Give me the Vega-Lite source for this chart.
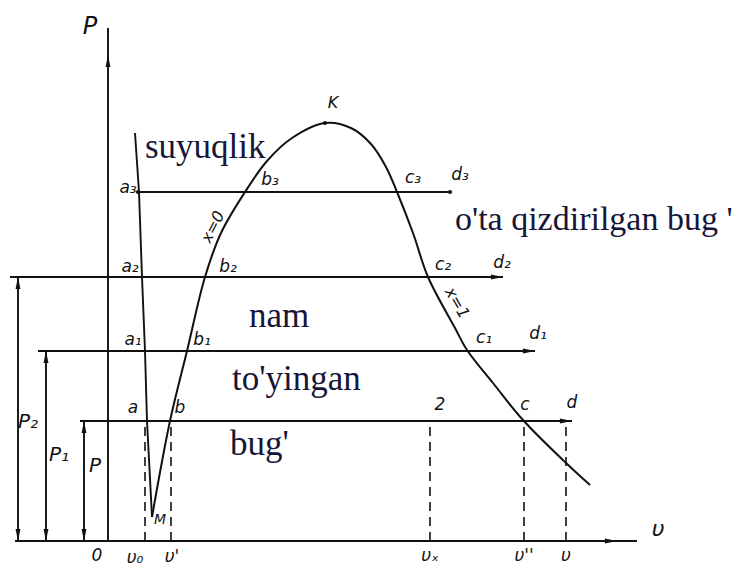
{
  "$schema": "https://vega.github.io/schema/vega-lite/v6.json",
  "width": 755,
  "height": 571,
  "autosize": {"type": "fit", "contains": "padding"},
  "padding": 0,
  "background": "white",
  "config": {"view": {"stroke": null}},
  "datasets": {
    "solid": [
      {"id": "axisP", "o": 0, "v": 0, "p": 0}, {"id": "axisP", "o": 1, "v": 0, "p": 51.3},
      {"id": "axisV", "o": 0, "v": -9.3, "p": 0}, {"id": "axisV", "o": 1, "v": 52.9, "p": 0},
      {"id": "h3", "o": 0, "v": 3.0, "p": 34.9}, {"id": "h3", "o": 1, "v": 34.2, "p": 34.9},
      {"id": "h2", "o": 0, "v": -9.8, "p": 26.4}, {"id": "h2", "o": 1, "v": 39.5, "p": 26.4},
      {"id": "h1", "o": 0, "v": -7.0, "p": 19.0}, {"id": "h1", "o": 1, "v": 42.7, "p": 19.0},
      {"id": "h0", "o": 0, "v": -2.8, "p": 12.0}, {"id": "h0", "o": 1, "v": 46.4, "p": 12.0},
      {"id": "dimP2", "o": 0, "v": -9.0, "p": 0}, {"id": "dimP2", "o": 1, "v": -9.0, "p": 26.4},
      {"id": "dimP1", "o": 0, "v": -6.2, "p": 0}, {"id": "dimP1", "o": 1, "v": -6.2, "p": 19.0},
      {"id": "dimP", "o": 0, "v": -2.4, "p": 0}, {"id": "dimP", "o": 1, "v": -2.4, "p": 12.0},
      {"id": "liquid", "o": 0, "v": 2.7, "p": 40.8},
      {"id": "liquid", "o": 1, "v": 3.1, "p": 34.9},
      {"id": "liquid", "o": 2, "v": 3.4, "p": 26.4},
      {"id": "liquid", "o": 3, "v": 3.7, "p": 19.0},
      {"id": "liquid", "o": 4, "v": 3.9, "p": 12.0},
      {"id": "liquid", "o": 5, "v": 4.4, "p": 2.4}
    ],
    "dashed": [
      {"id": "v0", "v": 3.7, "p": 0}, {"id": "v0", "v": 3.7, "p": 12.0},
      {"id": "v1", "v": 6.3, "p": 0}, {"id": "v1", "v": 6.3, "p": 12.0},
      {"id": "vx", "v": 32.2, "p": 0}, {"id": "vx", "v": 32.2, "p": 12.0},
      {"id": "v2", "v": 41.6, "p": 0}, {"id": "v2", "v": 41.6, "p": 12.0},
      {"id": "v3", "v": 45.8, "p": 0}, {"id": "v3", "v": 45.8, "p": 12.0}
    ],
    "saturation": [
      {"o": 0, "v": 4.4, "p": 2.4}, {"o": 1, "v": 6.2, "p": 12.0}, {"o": 2, "v": 7.9, "p": 19.0},
      {"o": 3, "v": 9.7, "p": 26.4}, {"o": 4, "v": 11.3, "p": 30.8}, {"o": 5, "v": 13.7, "p": 34.9},
      {"o": 6, "v": 15.9, "p": 38.0}, {"o": 7, "v": 18.4, "p": 40.3}, {"o": 8, "v": 21.7, "p": 41.8},
      {"o": 9, "v": 24.3, "p": 41.3}, {"o": 10, "v": 26.3, "p": 39.7}, {"o": 11, "v": 27.8, "p": 37.4},
      {"o": 12, "v": 28.9, "p": 34.9}, {"o": 13, "v": 30.5, "p": 30.8}, {"o": 14, "v": 32.0, "p": 26.4},
      {"o": 15, "v": 34.7, "p": 21.3}, {"o": 16, "v": 35.9, "p": 19.1}, {"o": 17, "v": 38.5, "p": 15.8},
      {"o": 18, "v": 41.5, "p": 12.1}, {"o": 19, "v": 45.7, "p": 7.9}, {"o": 20, "v": 48.2, "p": 5.6}
    ],
    "arrows": [
      {"v": 0, "p": 48.0, "dir": "up"},
      {"v": 50.3, "p": 0, "dir": "right"},
      {"v": 38.9, "p": 26.4, "dir": "right"},
      {"v": 42.1, "p": 19.0, "dir": "right"},
      {"v": 45.8, "p": 12.0, "dir": "right"},
      {"v": -9.0, "p": 25.8, "dir": "up"},
      {"v": -9.0, "p": 0.6, "dir": "down"},
      {"v": -6.2, "p": 18.4, "dir": "up"},
      {"v": -6.2, "p": 0.6, "dir": "down"},
      {"v": -2.4, "p": 11.4, "dir": "up"},
      {"v": -2.4, "p": 0.6, "dir": "down"}
    ],
    "dots": [
      {"v": 21.7, "p": 41.8}, {"v": 34.2, "p": 34.9}, {"v": 3.0, "p": 34.9}
    ],
    "marks": [
      {"text": "P", "v": -1.8, "p": 51.4, "size": 24, "angle": 0},
      {"text": "υ", "v": 55.0, "p": 1.2, "size": 22, "angle": 0},
      {"text": "0", "v": -1.1, "p": -1.5, "size": 17, "angle": 0},
      {"text": "υ₀", "v": 2.7, "p": -1.7, "size": 17, "angle": 0},
      {"text": "υ'", "v": 6.4, "p": -1.6, "size": 17, "angle": 0},
      {"text": "υₓ", "v": 32.2, "p": -1.5, "size": 17, "angle": 0},
      {"text": "υ''", "v": 41.6, "p": -1.5, "size": 17, "angle": 0},
      {"text": "υ", "v": 45.8, "p": -1.5, "size": 17, "angle": 0},
      {"text": "P₂", "v": -8.0, "p": 11.9, "size": 20, "angle": 0},
      {"text": "P₁", "v": -4.9, "p": 8.6, "size": 20, "angle": 0},
      {"text": "P", "v": -1.3, "p": 7.5, "size": 20, "angle": 0},
      {"text": "a₃", "v": 2.0, "p": 35.3, "size": 17, "angle": 0},
      {"text": "a₂", "v": 2.2, "p": 27.4, "size": 17, "angle": 0},
      {"text": "a₁", "v": 2.5, "p": 20.1, "size": 17, "angle": 0},
      {"text": "a", "v": 2.5, "p": 13.3, "size": 17, "angle": 0},
      {"text": "b₃", "v": 16.2, "p": 36.1, "size": 17, "angle": 0},
      {"text": "b₂", "v": 12.0, "p": 27.4, "size": 17, "angle": 0},
      {"text": "b₁", "v": 9.4, "p": 20.1, "size": 17, "angle": 0},
      {"text": "b", "v": 7.2, "p": 13.3, "size": 17, "angle": 0},
      {"text": "c₃", "v": 30.5, "p": 36.3, "size": 17, "angle": 0},
      {"text": "d₃", "v": 35.2, "p": 36.6, "size": 17, "angle": 0},
      {"text": "c₂", "v": 33.5, "p": 27.6, "size": 17, "angle": 0},
      {"text": "d₂", "v": 39.4, "p": 27.8, "size": 17, "angle": 0},
      {"text": "c₁", "v": 37.6, "p": 20.3, "size": 17, "angle": 0},
      {"text": "d₁", "v": 43.0, "p": 20.7, "size": 17, "angle": 0},
      {"text": "2", "v": 33.2, "p": 13.6, "size": 17, "angle": 0},
      {"text": "c", "v": 41.7, "p": 13.6, "size": 17, "angle": 0},
      {"text": "d", "v": 46.4, "p": 13.8, "size": 17, "angle": 0},
      {"text": "M", "v": 5.2, "p": 2.1, "size": 14, "angle": 0},
      {"text": "K", "v": 22.5, "p": 43.8, "size": 16, "angle": 0},
      {"text": "x=0", "v": 10.5, "p": 31.4, "size": 16, "angle": -63},
      {"text": "x=1", "v": 34.9, "p": 23.8, "size": 16, "angle": 60}
    ],
    "regions": [
      {"text": "suyuqlik", "v": 3.7, "p": 38.3, "size": 35},
      {"text": "o'ta qizdirilgan bug '", "v": 34.7, "p": 31.1, "size": 34},
      {"text": "nam", "v": 14.1, "p": 21.4, "size": 35},
      {"text": "to'yingan", "v": 12.4, "p": 15.1, "size": 35},
      {"text": "bug'", "v": 12.2, "p": 8.6, "size": 35}
    ]
  },
  "encoding": {
    "x": {"field": "v", "type": "quantitative", "scale": {"domain": [-10.8, 64.7], "nice": false, "zero": false}, "axis": null},
    "y": {"field": "p", "type": "quantitative", "scale": {"domain": [-3.0, 54.1], "nice": false, "zero": false}, "axis": null}
  },
  "layer": [
    {
      "data": {"name": "solid"},
      "mark": {"type": "line", "color": "#111111", "strokeWidth": 1.9},
      "encoding": {"detail": {"field": "id"}, "order": {"field": "o"}}
    },
    {
      "data": {"name": "dashed"},
      "mark": {"type": "line", "color": "#111111", "strokeWidth": 1.6, "strokeDash": [9, 6]},
      "encoding": {"detail": {"field": "id"}}
    },
    {
      "data": {"name": "saturation"},
      "mark": {"type": "line", "color": "#111111", "strokeWidth": 2, "interpolate": "catmull-rom"},
      "encoding": {"order": {"field": "o"}}
    },
    {
      "data": {"name": "arrows"},
      "transform": [{"filter": "datum.dir === 'up'"}],
      "mark": {"type": "point", "filled": true, "color": "#111111", "opacity": 1, "size": 150, "shape": "M0,-1L0.4,1L-0.4,1Z"}
    },
    {
      "data": {"name": "arrows"},
      "transform": [{"filter": "datum.dir === 'down'"}],
      "mark": {"type": "point", "filled": true, "color": "#111111", "opacity": 1, "size": 150, "shape": "M0,1L0.4,-1L-0.4,-1Z"}
    },
    {
      "data": {"name": "arrows"},
      "transform": [{"filter": "datum.dir === 'right'"}],
      "mark": {"type": "point", "filled": true, "color": "#111111", "opacity": 1, "size": 150, "shape": "M1,0L-1,0.4L-1,-0.4Z"}
    },
    {
      "data": {"name": "dots"},
      "mark": {"type": "point", "filled": true, "color": "#111111", "opacity": 1, "size": 18, "shape": "circle"}
    },
    {
      "data": {"name": "marks"},
      "mark": {"type": "text", "font": "DejaVu Sans", "fontStyle": "italic", "color": "#111111", "align": "center", "baseline": "middle"},
      "encoding": {
        "text": {"field": "text"},
        "size": {"field": "size", "type": "quantitative", "scale": null},
        "angle": {"field": "angle", "type": "quantitative", "scale": null}
      }
    },
    {
      "data": {"name": "regions"},
      "mark": {"type": "text", "font": "Liberation Serif", "color": "#16163a", "align": "left", "baseline": "alphabetic"},
      "encoding": {
        "text": {"field": "text"},
        "size": {"field": "size", "type": "quantitative", "scale": null}
      }
    }
  ]
}
